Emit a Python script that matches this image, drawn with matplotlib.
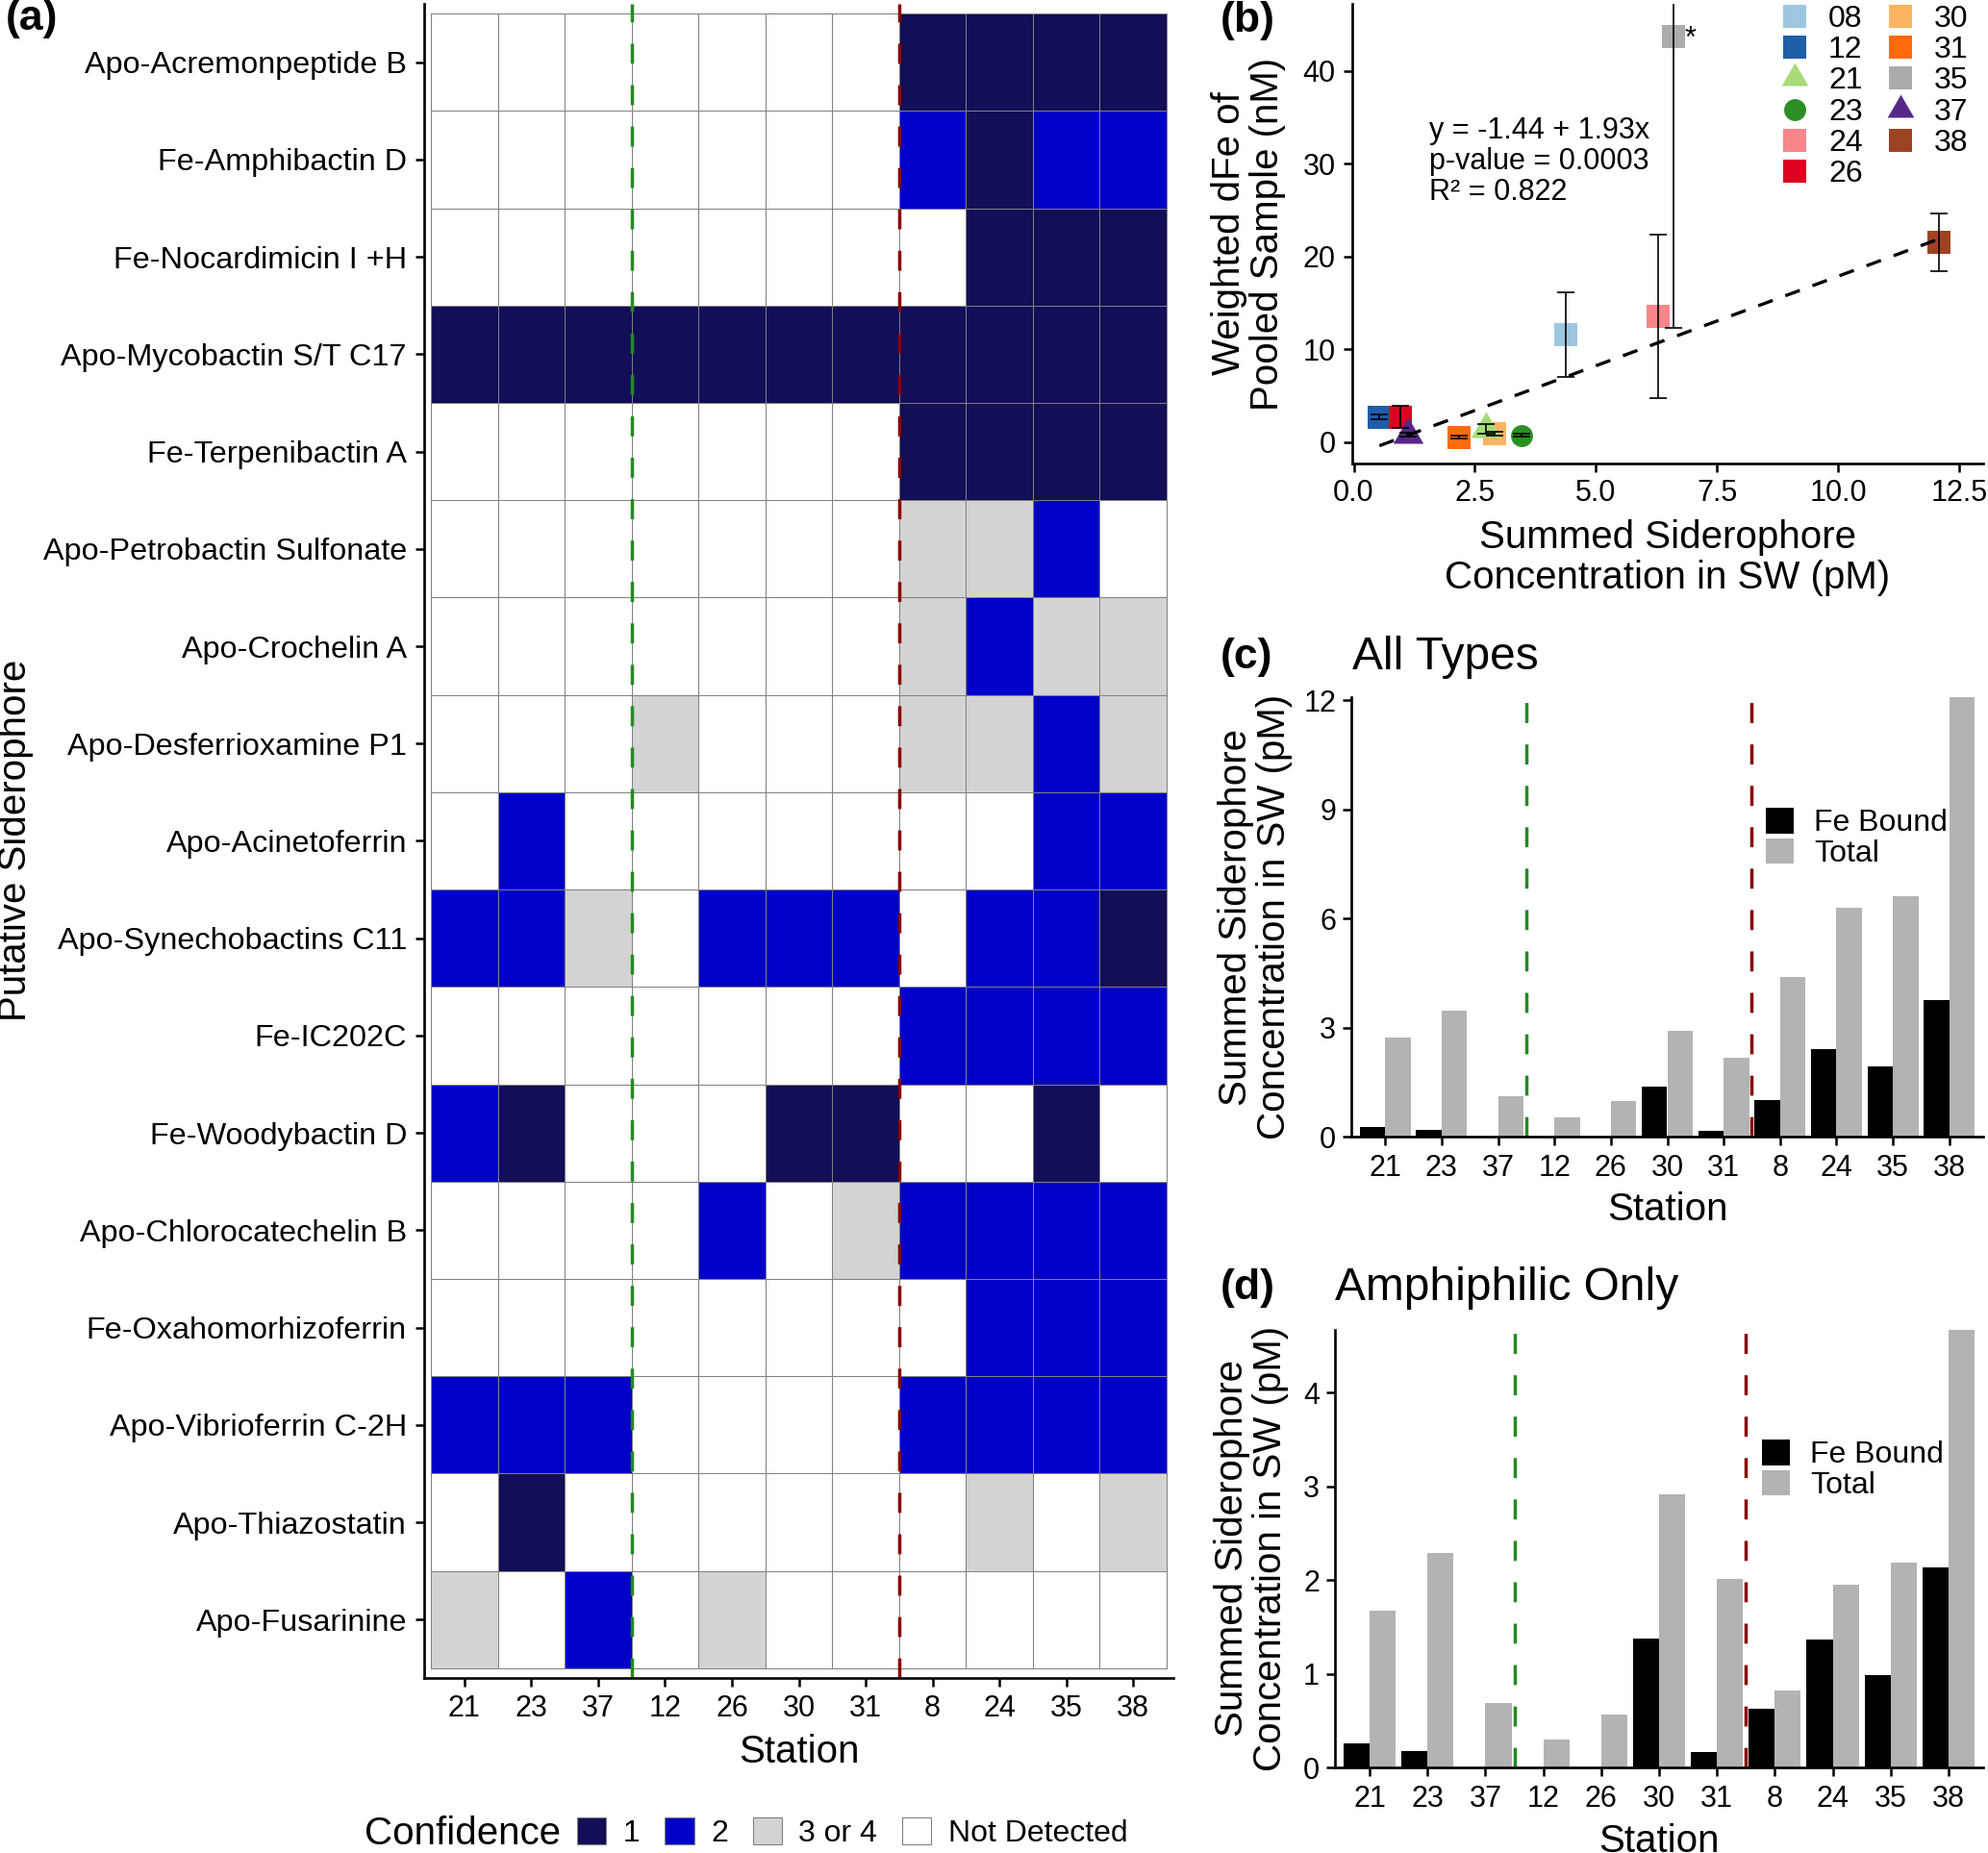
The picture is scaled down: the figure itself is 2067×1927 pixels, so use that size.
import numpy as np
import matplotlib
matplotlib.use("Agg")
import matplotlib.pyplot as plt
from matplotlib.colors import ListedColormap, BoundaryNorm
from matplotlib.patches import Patch
from matplotlib.lines import Line2D

plt.rcParams['font.family'] = ['Liberation Sans', 'DejaVu Sans']

# ---------------- data ----------------
stations = ["21", "23", "37", "12", "26", "30", "31", "8", "24", "35", "38"]
siderophores = ["Apo-Acremonpeptide B", "Fe-Amphibactin D", "Fe-Nocardimicin I +H",
                "Apo-Mycobactin S/T C17", "Fe-Terpenibactin A", "Apo-Petrobactin Sulfonate",
                "Apo-Crochelin A", "Apo-Desferrioxamine P1", "Apo-Acinetoferrin",
                "Apo-Synechobactins C11", "Fe-IC202C", "Fe-Woodybactin D",
                "Apo-Chlorocatechelin B", "Fe-Oxahomorhizoferrin", "Apo-Vibrioferrin C-2H",
                "Apo-Thiazostatin", "Apo-Fusarinine"]
# confidence code: 1 -> "1", 2 -> "2", 3 -> "3 or 4", 0 -> "Not Detected"
confidence = [
    [0, 0, 0, 0, 0, 0, 0, 1, 1, 1, 1],
    [0, 0, 0, 0, 0, 0, 0, 2, 1, 2, 2],
    [0, 0, 0, 0, 0, 0, 0, 0, 1, 1, 1],
    [1, 1, 1, 1, 1, 1, 1, 1, 1, 1, 1],
    [0, 0, 0, 0, 0, 0, 0, 1, 1, 1, 1],
    [0, 0, 0, 0, 0, 0, 0, 3, 3, 2, 0],
    [0, 0, 0, 0, 0, 0, 0, 3, 2, 3, 3],
    [0, 0, 0, 3, 0, 0, 0, 3, 3, 2, 3],
    [0, 2, 0, 0, 0, 0, 0, 0, 0, 2, 2],
    [2, 2, 3, 0, 2, 2, 2, 0, 2, 2, 1],
    [0, 0, 0, 0, 0, 0, 0, 2, 2, 2, 2],
    [2, 1, 0, 0, 0, 1, 1, 0, 0, 1, 0],
    [0, 0, 0, 0, 2, 0, 3, 2, 2, 2, 2],
    [0, 0, 0, 0, 0, 0, 0, 0, 2, 2, 2],
    [2, 2, 2, 0, 0, 0, 0, 2, 2, 2, 2],
    [0, 1, 0, 0, 0, 0, 0, 0, 3, 0, 3],
    [3, 0, 2, 0, 3, 0, 0, 0, 0, 0, 0],
]
conf_labels = ["1", "2", "3 or 4", "Not Detected"]
conf_codes = [1, 2, 3, 0]

# panel (c): all types
febound_all = [0.27, 0.19, 0.0, 0.0, 0.0, 1.38, 0.17, 1.01, 2.40, 1.92, 3.76]
total_all = [2.73, 3.47, 1.12, 0.54, 0.97, 2.91, 2.18, 4.38, 6.29, 6.60, 12.08]
# panel (d): amphiphilic only
febound_amph = [0.26, 0.17, 0.0, 0.0, 0.0, 1.38, 0.16, 0.63, 1.37, 0.99, 2.13]
total_amph = [1.67, 2.29, 0.69, 0.30, 0.56, 2.91, 2.01, 0.82, 1.95, 2.19, 4.67]

# panel (b): regression
b_stations = ["08", "12", "21", "23", "24", "26", "30", "31", "35", "37", "38"]
b_sum_sid = [4.38, 0.53, 2.73, 3.47, 6.29, 0.97, 2.91, 2.18, 6.60, 1.12, 12.08]
b_dfe = [11.57, 2.70, 1.42, 0.72, 13.54, 2.70, 0.90, 0.52, 43.76, 0.81, 21.50]
b_dfe_err = [4.6, 0.25, 0.5, 0.12, 8.8, 1.17, 0.22, 0.2, 31.5, 0.2, 3.1]
b_shapes = ["sq", "sq", "tri", "circ", "sq", "sq", "sq", "sq", "sq", "tri", "sq"]
fit_intercept, fit_slope = -1.44, 1.93
fit_text = ["y = -1.44 + 1.93x", "p-value = 0.0003", "R² = 0.822"]

# ---------------- styling ----------------
W, H, DPI = 2067, 1927, 100
conf_colors = {1: "#120E57", 2: "#0000C8", 3: "#D3D3D3", 0: "#FFFFFF"}
b_colors = ["#9DC7E0", "#1F5EA8", "#A6DB78", "#2B8F24", "#F8868A", "#DD0020",
            "#FDB462", "#FF6A0F", "#ABABAB", "#55288A", "#9E4322"]
GREEN, RED = "#228B22", "#8B0000"
GREY_BAR = "#B3B3B3"
TICK_FS, YLAB_A_FS, LEG_FS, TITLE_FS, HEAD_FS, LETTER_FS = 22, 23.3, 23, 29, 34.5, 32
VDASH = (0, (6, 6.4))
TRI = [(0, 1), (-0.866, -0.5), (0.866, -0.5), (0, 1)]

fig = plt.figure(figsize=(W / DPI, H / DPI), dpi=DPI)


def box(l, t, r, b):
    return [l / W, 1 - b / H, (r - l) / W, (b - t) / H]


def fx(px):
    return px / W


def fy(py):
    return 1 - py / H


def style_axes(ax, xpad=4, ypad=5):
    for s in ["top", "right"]:
        ax.spines[s].set_visible(False)
    for s in ["left", "bottom"]:
        ax.spines[s].set_linewidth(1.9)
        ax.spines[s].set_color("black")
    ax.tick_params(axis="both", length=6.5, width=1.8, color="black",
                   labelsize=TICK_FS, labelcolor="black")
    ax.tick_params(axis="x", pad=xpad)
    ax.tick_params(axis="y", pad=ypad)


# ---------------- (a) heatmap ----------------
axa = fig.add_axes(box(441, 4, 1220, 1745))
code_order = [0, 1, 2, 3]
cmap = ListedColormap([conf_colors[c] for c in code_order])
norm = BoundaryNorm([-0.5, 0.5, 1.5, 2.5, 3.5], cmap.N)
data = np.array(confidence)
xe = np.arange(len(stations) + 1) + 0.5
ye = np.arange(len(siderophores) + 1) + 0.5
axa.pcolormesh(xe, ye, data, cmap=cmap, norm=norm, edgecolors="#808080", linewidth=0.7)
axa.set_xlim(0.4, len(stations) + 0.6)
axa.set_ylim(len(siderophores) + 0.6, 0.4)
axa.axvline(3.5, color=GREEN, lw=2.5, ls=VDASH)
axa.axvline(7.5, color=RED, lw=2.5, ls=VDASH)
axa.set_xticks(np.arange(1, len(stations) + 1))
axa.set_xticklabels(stations)
axa.set_yticks(np.arange(1, len(siderophores) + 1))
axa.set_yticklabels(siderophores)
style_axes(axa, xpad=5.5, ypad=6.5)
axa.tick_params(axis="y", labelsize=YLAB_A_FS)
fig.text(fx(831), fy(1822), "Station", fontsize=TITLE_FS, ha="center", va="center")
fig.text(fx(16), fy(874), "Putative Siderophore", fontsize=TITLE_FS, ha="center",
         va="center", rotation=90)
fig.text(fx(6), fy(20), "(a)", fontsize=LETTER_FS, fontweight="bold", ha="left", va="center")

# legend (a)
fig.text(fx(379), fy(1907), "Confidence", fontsize=TITLE_FS, ha="left", va="center")
handles_a = [Patch(facecolor=conf_colors[c], edgecolor="#808080", linewidth=0.8)
             for c in conf_codes]
fig.legend(handles_a, conf_labels, loc="center left", bbox_to_anchor=(fx(600), fy(1906)),
           ncol=4, frameon=False, fontsize=LEG_FS, borderpad=0, borderaxespad=0,
           handlelength=0.95, handleheight=0.97, handletextpad=0.55, columnspacing=0.8)

# ---------------- (b) scatter ----------------
axb = fig.add_axes(box(1406, 4, 2062, 482))
for i in range(len(b_stations)):
    shp = b_shapes[i]
    if shp == "sq":
        mk, ms, z = "s", 17.5, 2
    elif shp == "circ":
        mk, ms, z = "o", 16.5, 3
    else:
        mk, ms, z = TRI, 26, 3
    axb.plot([b_sum_sid[i]], [b_dfe[i]], marker=mk, ms=ms, color=b_colors[i],
             ls="none", mew=0, zorder=z)
xs = np.array([min(b_sum_sid), max(b_sum_sid)])
axb.plot(xs, fit_intercept + fit_slope * xs, color="black", lw=2.4,
         ls=(0, (4.8, 4.2)), dash_capstyle="butt", zorder=4)
axb.errorbar(b_sum_sid, b_dfe, yerr=b_dfe_err, fmt="none", ecolor="black",
             elinewidth=1.2, capsize=6.5, capthick=1.2, zorder=5)
i35 = b_stations.index("35")
axb.annotate("*", (b_sum_sid[i35], b_dfe[i35]), xytext=(12, -3),
             textcoords="offset pixels", fontsize=TICK_FS, ha="left", va="center")
axb.text(1.56, 30.24, "\n".join(fit_text), fontsize=TICK_FS, ha="left", va="center",
         linespacing=1.1)
axb.set_xlim(-0.03, 13.0)
axb.set_ylim(-2.33, 47.25)
axb.set_xticks([0, 2.5, 5, 7.5, 10, 12.5])
axb.set_xticklabels(["0.0", "2.5", "5.0", "7.5", "10.0", "12.5"])
axb.set_yticks([0, 10, 20, 30, 40])
style_axes(axb, xpad=5, ypad=6)
fig.text(fx(1734), fy(580), "Summed Siderophore\nConcentration in SW (pM)",
         fontsize=TITLE_FS, ha="center", va="center", linespacing=1.12)
fig.text(fx(1298), fy(243), "Weighted dFe of\nPooled Sample (nM)", fontsize=TITLE_FS,
         ha="center", va="center", rotation=90, linespacing=1.08)
fig.text(fx(1269), fy(22), "(b)", fontsize=LETTER_FS, fontweight="bold", ha="left", va="center")

handles_b = []
for i in range(len(b_stations)):
    shp = b_shapes[i]
    if shp == "sq":
        mk, ms = "s", 17.5
    elif shp == "circ":
        mk, ms = "o", 16.5
    else:
        mk, ms = TRI, 23
    handles_b.append(Line2D([], [], marker=mk, ms=ms, color=b_colors[i], ls="none", mew=0))
axb.legend(handles_b, b_stations, ncol=2, loc="upper left",
           bbox_to_anchor=(fx(1850), fy(5)), bbox_transform=fig.transFigure,
           frameon=False, fontsize=LEG_FS, borderpad=0, borderaxespad=0,
           handlelength=1.0, handletextpad=0.6, columnspacing=0.72, labelspacing=0.07)

# ---------------- (c) & (d) bars ----------------
def bar_panel(rect, febound, total, yticks, title, letter, title_y, title_x, ylab_x,
              station_y, leg_xy):
    ax = fig.add_axes(box(*rect))
    x = np.arange(1, len(stations) + 1)
    ax.bar(x - 0.225, febound, 0.45, color="black", label="Fe Bound")
    ax.bar(x + 0.225, total, 0.45, color=GREY_BAR, label="Total")
    ax.axvline(3.5, color=GREEN, lw=2.5, ls=VDASH)
    ax.axvline(7.5, color=RED, lw=2.5, ls=VDASH)
    ax.set_xlim(0.4, len(stations) + 0.6)
    ax.set_ylim(0, max(total))
    ax.set_xticks(x)
    ax.set_xticklabels(stations)
    ax.set_yticks(yticks)
    style_axes(ax, xpad=6.5, ypad=5)
    l, t, r, b = rect
    fig.text(fx((l + r) / 2), fy(station_y), "Station", fontsize=TITLE_FS,
             ha="center", va="center")
    fig.text(fx(ylab_x), fy((t + b) / 2), "Summed Siderophore\nConcentration in SW (pM)",
             fontsize=TITLE_FS, ha="center", va="center", rotation=90, linespacing=1.05)
    fig.text(fx(1269), fy(title_y), letter, fontsize=LETTER_FS, fontweight="bold",
             ha="left", va="center")
    fig.text(fx(title_x), fy(title_y), title, fontsize=HEAD_FS, ha="left", va="center")
    hs = [Patch(facecolor="black"), Patch(facecolor=GREY_BAR)]
    ax.legend(hs, ["Fe Bound", "Total"], loc="upper left",
              bbox_to_anchor=(fx(leg_xy[0]), fy(leg_xy[1])), bbox_transform=fig.transFigure,
              frameon=False, fontsize=LEG_FS, borderpad=0, borderaxespad=0,
              handlelength=0.9, handleheight=0.9, handletextpad=0.66, labelspacing=0.02)
    return ax


bar_panel((1405, 725, 2062, 1182), febound_all, total_all, [0, 3, 6, 9, 12],
          "All Types", "(c)", 683, 1406, 1305, 1258, (1836, 840))
bar_panel((1388, 1383, 2062, 1838), febound_amph, total_amph, [0, 1, 2, 3, 4],
          "Amphiphilic Only", "(d)", 1339, 1388, 1301, 1915, (1832, 1497))

fig.savefig("out.png", dpi=DPI)
